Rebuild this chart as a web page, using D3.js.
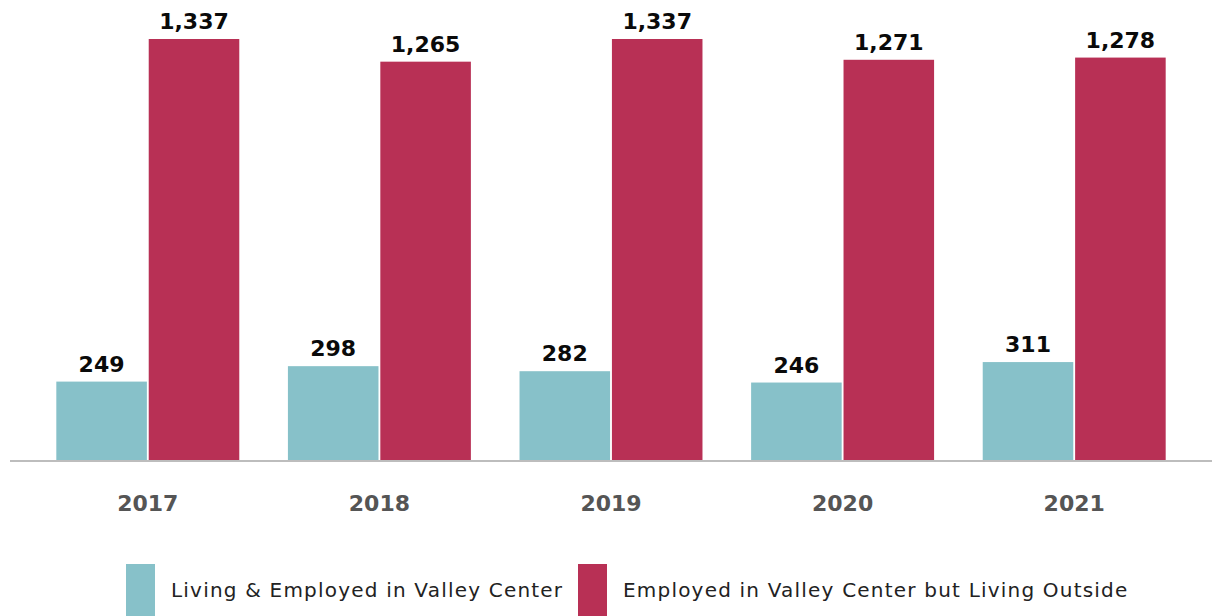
<!DOCTYPE html>
<html>
<head>
<meta charset="utf-8">
<script src="https://cdn.jsdelivr.net/npm/d3@7"></script>
<style>
  body { margin: 0; background: #fff; }
  svg { display: block; font-family: "DejaVu Sans", sans-serif; }
</style>
</head>
<body>
<div id="chart"></div>
<script>
var years = ["2017", "2018", "2019", "2020", "2021"];
var seriesNames = ["Living & Employed in Valley Center", "Employed in Valley Center but Living Outside"];
var livingInside = [249, 298, 282, 246, 311];
var livingOutside = [1337, 1265, 1337, 1271, 1278];
var colors = ["#87c1c9", "#b83055"];

var width = 1212, height = 616;
var baseY = 460;

var svg = d3.select("#chart").append("svg")
  .attr("width", width)
  .attr("height", height);

var x = d3.scaleBand()
  .domain(years)
  .range([32, 1190])
  .paddingInner(0.21)
  .paddingOuter(0.105);

var x1 = d3.scaleBand()
  .domain([0, 1])
  .range([0, x.bandwidth()])
  .paddingInner(0.02);

var y = d3.scaleLinear()
  .domain([0, 1337])
  .range([baseY, 39]);

var rows = years.map(function(yr, i) {
  return { year: yr, values: [livingInside[i], livingOutside[i]] };
});

var groups = svg.selectAll("g.year")
  .data(rows)
  .enter()
  .append("g")
  .attr("class", "year")
  .attr("transform", function(d) { return "translate(" + x(d.year) + ",0)"; });

groups.selectAll("rect")
  .data(function(d) { return d.values; })
  .enter()
  .append("rect")
  .attr("x", function(d, i) { return x1(i); })
  .attr("y", function(d) { return y(d); })
  .attr("width", x1.bandwidth())
  .attr("height", function(d) { return baseY - y(d); })
  .attr("fill", function(d, i) { return colors[i]; });

groups.selectAll("text.val")
  .data(function(d) { return d.values; })
  .enter()
  .append("text")
  .attr("class", "val")
  .attr("x", function(d, i) { return x1(i) + x1.bandwidth() / 2; })
  .attr("y", function(d) { return y(d) - 10; })
  .attr("text-anchor", "middle")
  .attr("font-size", 22)
  .attr("font-weight", "bold")
  .attr("fill", "#0a0a0a")
  .text(function(d) { return d3.format(",")(d); });

// axis
var xAxis = svg.append("g")
  .attr("transform", "translate(0," + baseY + ")")
  .call(d3.axisBottom(x).tickSize(0).tickPadding(35));
xAxis.select(".domain").remove();
xAxis.append("line")
  .attr("x1", 10).attr("x2", 1212)
  .attr("y1", 1).attr("y2", 1)
  .attr("stroke", "#bdbdbd")
  .attr("stroke-width", 2);
xAxis.selectAll(".tick text")
  .attr("font-family", "DejaVu Sans, sans-serif")
  .attr("font-size", 22)
  .attr("font-weight", "bold")
  .attr("fill", "#555");

// legend
var legendX = [126, 578];
var legend = svg.selectAll("g.legend")
  .data(seriesNames)
  .enter()
  .append("g")
  .attr("class", "legend")
  .attr("transform", function(d, i) { return "translate(" + legendX[i] + ",564)"; });

legend.append("rect")
  .attr("width", 29)
  .attr("height", 52)
  .attr("fill", function(d, i) { return colors[i]; });

legend.append("text")
  .attr("x", 45)
  .attr("y", 33)
  .attr("font-size", 20)
  .attr("letter-spacing", 1.2)
  .attr("fill", "#222")
  .text(function(d) { return d; });
</script>
</body>
</html>
